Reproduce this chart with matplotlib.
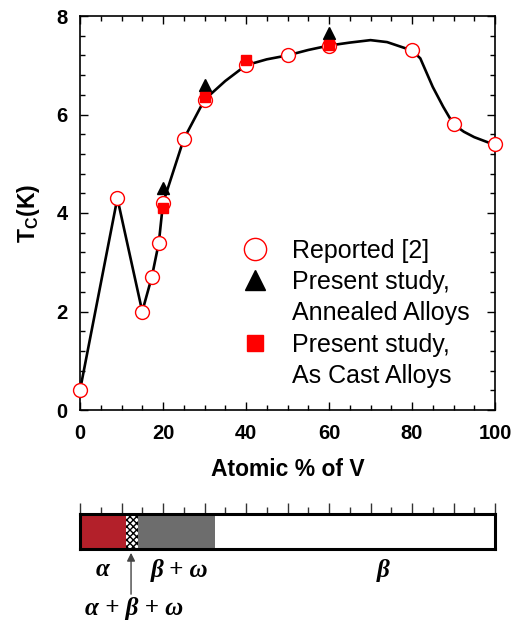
import matplotlib
matplotlib.use("Agg")
import matplotlib.pyplot as plt
from matplotlib.lines import Line2D
from matplotlib.ticker import MultipleLocator

plt.rcParams["font.family"] = ["Liberation Sans", "DejaVu Sans"]
plt.rcParams["mathtext.fontset"] = "custom"
plt.rcParams["mathtext.rm"] = "Liberation Sans:bold"
plt.rcParams["mathtext.bf"] = "Liberation Sans:bold"

# reported Tc values [2]
rep_x = [0, 9, 15, 17.3, 19, 20, 25, 30, 40, 50, 60, 80, 90, 100]
rep_y = [0.4, 4.3, 2.0, 2.7, 3.4, 4.2, 5.5, 6.3, 7.0, 7.2, 7.4, 7.3, 5.8, 5.4]

# present study
ann_x = [20, 30, 60]
ann_y = [4.5, 6.6, 7.65]
cast_x = [20, 30, 40, 60]
cast_y = [4.1, 6.36, 7.1, 7.42]

# guide line through the data
curve_x = [0, 9, 15, 17.3, 19, 20, 25, 27.5, 30, 35, 40, 45, 50, 55, 60, 65, 70, 74,
           80, 82, 85, 87.5, 90, 92.5, 95, 100]
curve_y = [0.4, 4.3, 2.0, 2.7, 3.4, 4.2, 5.5, 5.9, 6.3, 6.68, 7.0, 7.12, 7.2, 7.31,
           7.4, 7.46, 7.51, 7.47, 7.3, 7.14, 6.56, 6.16, 5.8, 5.65, 5.54, 5.38]

# phase bar
phase_bounds = [0, 11, 14, 32.5, 100]
phase_colors = ["#b3202a", "white", "#6d6d6d", "white"]
phase_hatch = [None, "xxxxx", None, None]
phase_labels = ["α", "β + ω", "β"]
phase_label_x = [5.5, 24, 73]

greek = dict(family=["Liberation Serif", "DejaVu Serif"], style="italic",
             fontweight="bold", fontsize=18)

fig = plt.figure(figsize=(5.12, 6.25), dpi=100)
ax = fig.add_axes([80 / 512, 1 - 410 / 625, 415 / 512, 394 / 625])

ax.plot(curve_x, curve_y, color="black", lw=1.9, zorder=2)
ax.plot(rep_x, rep_y, "o", ms=10, mfc="white", mec="red", mew=1.0, zorder=3, clip_on=False)
ax.plot(ann_x, ann_y, "^", ms=8, color="black", zorder=4)
ax.plot(cast_x, cast_y, "s", ms=6.5, color="red", zorder=5)

ax.set_xlim(0, 100)
ax.set_ylim(0, 8)
ax.xaxis.set_major_locator(MultipleLocator(20))
ax.xaxis.set_minor_locator(MultipleLocator(5))
ax.yaxis.set_major_locator(MultipleLocator(2))
ax.yaxis.set_minor_locator(MultipleLocator(0.4))
ax.tick_params(which="both", direction="in", top=True, right=True, width=1.0)
ax.tick_params(which="major", length=6, labelsize=14.5)
ax.tick_params(axis="x", which="major", pad=10)
ax.tick_params(axis="y", which="major", pad=9)
ax.tick_params(which="minor", length=3.5)
for lab in ax.get_xticklabels() + ax.get_yticklabels():
    lab.set_fontweight("bold")
for sp in ax.spines.values():
    sp.set_linewidth(1.2)

ax.set_xlabel("Atomic % of V", fontsize=16.5, fontweight="bold", labelpad=11)
ax.set_ylabel(r"T$_\mathrm{C}$(K)", fontsize=16.5, fontweight="bold", labelpad=10)

handles = [
    Line2D([], [], ls="none", marker="o", ms=16, mfc="white", mec="red", mew=1.0),
    Line2D([], [], ls="none", marker="^", ms=15, color="black"),
    Line2D([], [], ls="none", marker="none"),
    Line2D([], [], ls="none", marker="s", ms=12, color="red"),
    Line2D([], [], ls="none", marker="none"),
]
labels = ["Reported [2]", "Present study,", "Annealed Alloys", "Present study,", "As Cast Alloys"]
ax.legend(handles, labels, loc="upper left", bbox_to_anchor=(0.355, 0.466), frameon=False,
          fontsize=18, handlelength=1.2, handletextpad=0.9, labelspacing=0.29, borderpad=0)

# phase diagram strip
ax2 = fig.add_axes([80 / 512, 1 - 549 / 625, 415 / 512, 35 / 625])
for i in range(len(phase_colors)):
    ax2.barh(0.5, phase_bounds[i + 1] - phase_bounds[i], left=phase_bounds[i], height=1,
             color=phase_colors[i], hatch=phase_hatch[i], edgecolor="black", lw=0)
ax2.set_xlim(0, 100)
ax2.set_ylim(0, 1)
ax2.set_yticks([])
ax2.xaxis.set_major_locator(MultipleLocator(10))
ax2.xaxis.set_minor_locator(MultipleLocator(5))
ax2.tick_params(which="both", direction="out", bottom=False, top=True,
                labelbottom=False, labeltop=False, width=1.0, color="#333333")
ax2.tick_params(which="major", length=8)
ax2.tick_params(which="minor", length=5)
for sp in ax2.spines.values():
    sp.set_linewidth(2.2)

for lx, txt in zip(phase_label_x, phase_labels):
    ax2.text(lx, -0.6, txt, ha="center", va="center",
             transform=ax2.get_xaxis_transform(), **greek)

ax2.annotate("", xy=(12.3, -0.03), xytext=(12.3, -1.37),
             xycoords=ax2.get_xaxis_transform(), textcoords=ax2.get_xaxis_transform(),
             arrowprops=dict(arrowstyle="-|>", color="#444444", lw=1.0, mutation_scale=12),
             annotation_clip=False)
ax2.text(13, -1.7, "α + β + ω", ha="center", va="center",
         transform=ax2.get_xaxis_transform(), **greek)

fig.savefig("out.png", dpi=100)
